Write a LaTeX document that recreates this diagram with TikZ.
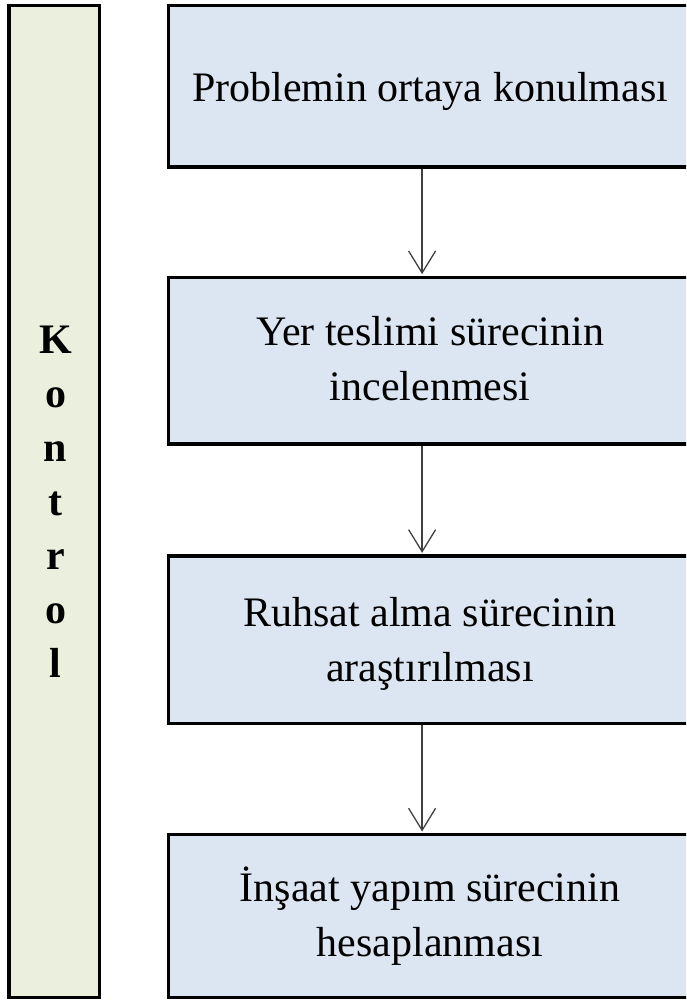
\documentclass[tikz,border=0pt]{standalone}
\usepackage{fontspec}
\setmainfont{Liberation Serif}
\usetikzlibrary{arrows.meta}
\definecolor{stepblue}{HTML}{DCE6F2}
\definecolor{barolive}{HTML}{EBF0DE}

\begin{document}
\begin{tikzpicture}[x=1pt,y=-1pt,>={Straight Barb[length=22pt,width=27pt]},
  stepbox/.style={draw,line width=3.2pt,fill=stepblue,minimum width=522.8pt,inner sep=0pt},
  steptext/.style={font=\fontsize{42}{55}\selectfont,align=center,inner sep=0pt,anchor=base},
  flow/.style={->,line width=1.3pt,draw=black!75,shorten >=1.6pt}]
% page frame: the step boxes run past the right edge
\path[use as bounding box] (0,0) rectangle (686,1003);
\clip (0,0) rectangle (686,1003);
% control bar on the left (base = last letter)
\node[draw,line width=3.2pt,fill=barolive,minimum width=90.7pt,minimum height=992.4pt,inner sep=0pt] (bar) at (54.4,501.5) {};
\node[font=\fontsize{42}{54}\selectfont\bfseries,align=center,inner sep=0pt,anchor=base] (kontrol) at (55.5,677) {K\\o\\n\\t\\r\\o\\l};
% step boxes
\node[stepbox,minimum height=161.7pt] (b1) at (430.1,86.2) {};
\node[stepbox,minimum height=166.7pt] (b2) at (430.1,360.7) {};
\node[stepbox,minimum height=167.3pt] (b3) at (430.1,639.7) {};
\node[stepbox,minimum height=163pt] (b4) at (430.1,916.2) {};
% texts, placed on the baseline of their last line
\node[steptext] (t1) at (430.1,101.7) {Problemin ortaya konulması};
\node[steptext] (t2) at (430.1,400.7) {Yer teslimi sürecinin\\incelenmesi};
\node[steptext] (t3) at (430.1,681.7) {Ruhsat alma sürecinin\\araştırılması};
\node[steptext] (t4) at (430.1,956.7) {İnşaat yapım sürecinin\\hesaplanması};
% arrows between the steps
\draw[flow] ([xshift=-8pt]b1.south) -- ([xshift=-8pt]b2.north);
\draw[flow] ([xshift=-8pt]b2.south) -- ([xshift=-8pt]b3.north);
\draw[flow] ([xshift=-8pt]b3.south) -- ([xshift=-8pt]b4.north);
\end{tikzpicture}
\end{document}
